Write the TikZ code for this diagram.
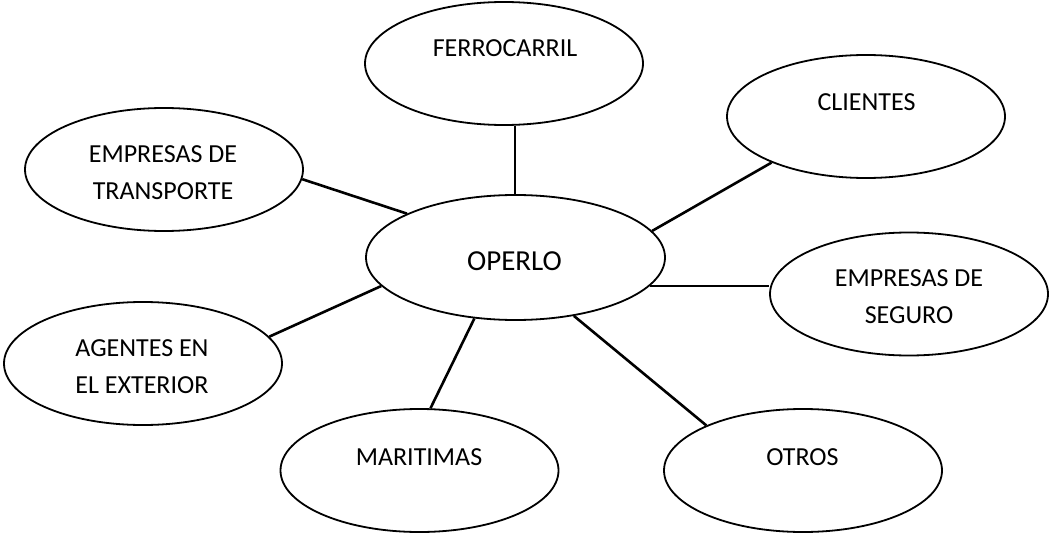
\documentclass[tikz,border=0pt]{standalone}
\usepackage{fontspec}
\setmainfont{Carlito}
\usetikzlibrary{shapes.geometric}

\tikzset{
  oval/.style={draw, ellipse, line width=0.9pt, minimum width=139pt, minimum height=61.5pt, inner sep=0pt},
  lbl/.style={inner sep=0pt, align=center, font=\fontsize{13}{18.5}\selectfont},
  link/.style={draw, line width=1.3pt}
}

\begin{document}
\begin{tikzpicture}[x=0.5pt, y=-0.5pt]
			\useasboundingbox (0,0) rectangle (1049,535);
			
			% ovalos
			\node[oval, minimum width=149.5pt, minimum height=62.5pt] (operlo) at (515.5,257.5) { };
			\node[oval] (ferro) at (504,63.5) { };
			\node[oval] (clientes) at (866,116.5) { };
			\node[oval] (transp) at (164,169.5) { };
			\node[oval] (seguro) at (909,294) { };
			\node[oval] (agentes) at (143,363.5) { };
			\node[oval] (maritimas) at (419.5,470.5) { };
			\node[oval] (otros) at (803,470.5) { };
			
			% textos
			\node[lbl, font=\fontsize{14.5}{18}\selectfont, anchor=base] (operlo-t) at (514.5,270) {OPERLO};
			\node[lbl, anchor=base] (ferro-t) at (505,57) {FERROCARRIL};
			\node[lbl, anchor=base] (clientes-t) at (866.5,111) {CLIENTES};
			\node[lbl] (transp-t) at (163,172.3) {EMPRESAS DE\\TRANSPORTE};
			\node[lbl] (seguro-t) at (909,296.3) {EMPRESAS DE\\SEGURO};
			\node[lbl] (agentes-t) at (142,366.3) {AGENTES EN\\EL EXTERIOR};
			\node[lbl, anchor=base] (maritimas-t) at (419,465) {MARITIMAS};
			\node[lbl, anchor=base] (otros-t) at (802.5,465) {OTROS};
			
			% lineas
			\path[link] (ferro.-80) -- (ferro.-80 |- operlo.north);
			\path[link] (operlo.11) -- (clientes.-154);
			\path[link] (operlo.158) -- (transp.-4);
			\path[link] (operlo.-12) -- (operlo.-12 -| seguro.west);
			\path[link] (operlo.192) -- (agentes.12);
			\path[link] (operlo.-124) -- (maritimas.80);
			\path[link] (operlo.-45) -- (otros.155);
			\end{tikzpicture}
\end{document}
